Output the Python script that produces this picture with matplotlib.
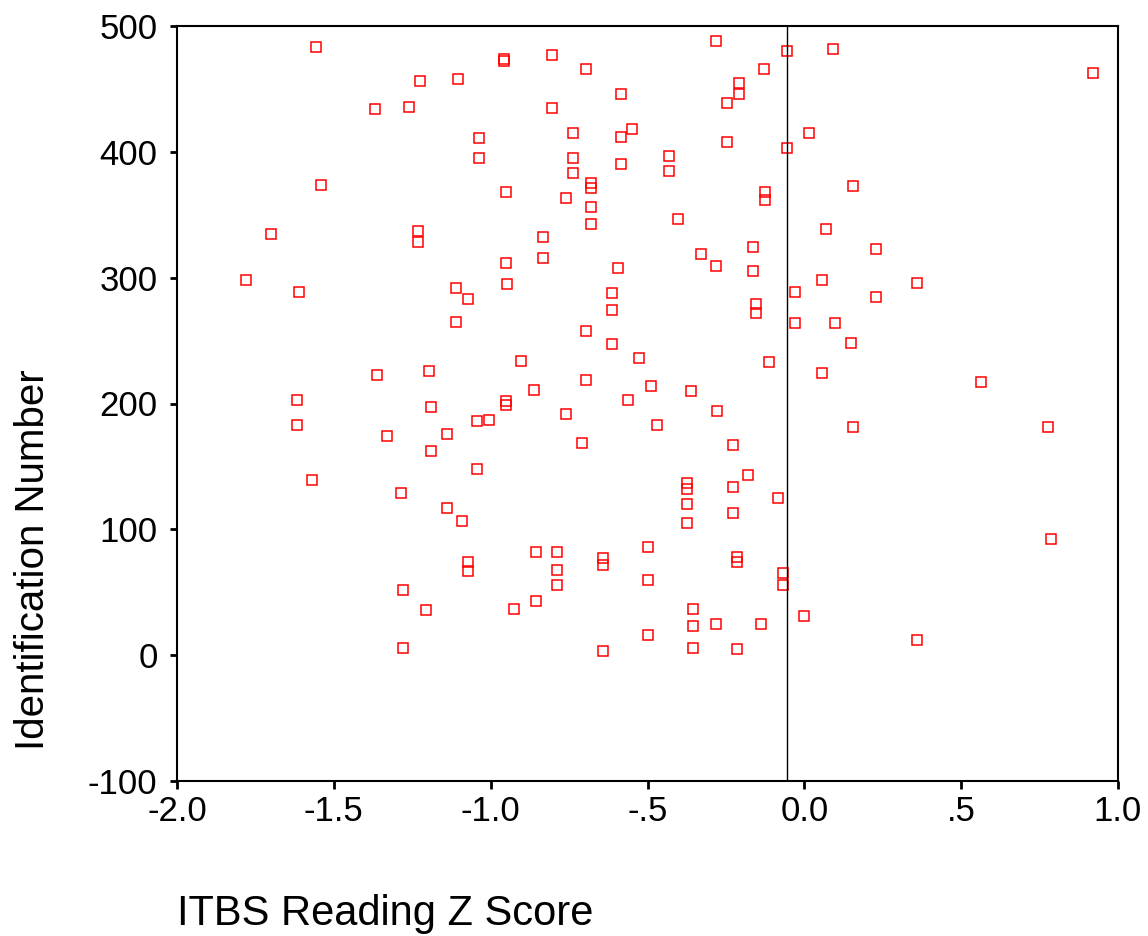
import matplotlib
matplotlib.use('Agg')
import matplotlib.pyplot as plt

plt.rcParams['font.family'] = ['Liberation Sans', 'DejaVu Sans']
plt.rcParams['axes.unicode_minus'] = False

# ITBS reading z score vs identification number
z_score = [
    -1.557, -1.225, -1.105, -1.370, -1.259, -1.037, -1.037, -1.542, -1.701, -1.231,
    -1.231, -1.780, -1.610, -1.112, -1.071, -1.112, -1.361, -1.197,
    -0.283, -0.056, -0.959, -0.959, -0.805, -0.697, -0.130, -0.209, -0.209, -0.245,
    -0.584, -0.805, -0.736, -0.584, -0.549, -0.245, -0.056, -0.736, -0.584, -0.431,
    -0.431, -0.736, -0.680, -0.680, -0.952, -0.760, -0.125, -0.125, -0.680, -0.680,
    -0.403, -0.833, -0.833, -0.952, -0.947, -0.329, -0.283, -0.164, -0.164, -0.595,
    -0.029, -0.029, -0.612, -0.612, -0.153, -0.153, -0.697, -0.612, -0.902, -0.527,
    -0.114, -0.697, -0.862, -0.488, -0.362,
    0.091, 0.919, 0.015, 0.154, 0.069, 0.230, 0.057, 0.358, 0.230, 0.098,
    0.148, 0.057, 0.562,
    -1.618, -1.618, -1.570, -1.332, -1.190, -1.190, -1.140, -1.044, -1.005, -1.044,
    -1.287, -1.140, -1.092, -1.071, -1.071, -1.279, -1.207, -1.279,
    -0.952, -0.952, -0.760, -0.561, -0.278, -0.470, -0.709, -0.227, -0.374, -0.374,
    -0.374, -0.374, -0.181, -0.227, -0.227, -0.085, -0.857, -0.789, -0.789, -0.789,
    -0.641, -0.641, -0.499, -0.499, -0.216, -0.216, -0.069, -0.069, -0.925, -0.857,
    -0.354, -0.354, -0.283, -0.138, -0.499, -0.641, -0.354, -0.216, 0.000,
    0.154, 0.778, 0.786, 0.358,
]
id_number = [
    483, 456, 458, 434, 436, 411, 395, 374, 335, 337,
    328, 298, 289, 292, 283, 265, 223, 226,
    488, 480, 474, 472, 477, 466, 466, 455, 446, 439,
    446, 435, 415, 412, 418, 408, 403, 395, 390, 397,
    385, 383, 375, 371, 368, 363, 368, 362, 356, 343,
    347, 332, 316, 312, 295, 319, 309, 324, 305, 308,
    289, 264, 288, 274, 279, 272, 258, 247, 234, 236,
    233, 219, 211, 214, 210,
    482, 463, 415, 373, 339, 323, 298, 296, 285, 264,
    248, 224, 217,
    203, 183, 139, 174, 197, 162, 176, 186, 187, 148,
    129, 117, 107, 74, 67, 52, 36, 6,
    202, 199, 192, 203, 194, 183, 169, 167, 137, 132,
    120, 105, 143, 134, 113, 125, 82, 82, 68, 56,
    77, 72, 86, 60, 78, 74, 65, 56, 37, 43,
    37, 23, 25, 25, 16, 3, 6, 5, 31,
    181, 181, 92, 12,
]
ref_line = -0.055

x_ticks = [-2.0, -1.5, -1.0, -0.5, 0.0, 0.5, 1.0]
x_tick_labels = ['-2.0', '-1.5', '-1.0', '-.5', '0.0', '.5', '1.0']
y_ticks = [-100, 0, 100, 200, 300, 400, 500]

fig = plt.figure(figsize=(11.48, 9.36), dpi=100)
ax = fig.add_axes([177/1148, 1-781/936, 941/1148, 755/936])

ax.plot(z_score, id_number, linestyle='none', marker='s', markersize=6.5,
        markerfacecolor='none', markeredgecolor='#ff0000', markeredgewidth=1.1)
ax.axvline(ref_line, color='black', linewidth=1.0)

ax.set_xlim(-2.0, 1.0)
ax.set_ylim(-100, 500)
ax.set_xticks(x_ticks)
ax.set_xticklabels(x_tick_labels)
ax.set_yticks(y_ticks)
ax.tick_params(axis='x', labelsize=25, length=6, width=2, pad=4, direction='out')
ax.tick_params(axis='y', labelsize=25, length=5, width=2, pad=9, direction='out')
for s in ax.spines.values():
    s.set_linewidth(1.5)

fig.text(177/1148, 1-925/936, 'ITBS Reading Z Score', fontsize=30,
         ha='left', va='baseline')
fig.text(14/1148, 1-750/936, 'Identification Number', fontsize=29,
         rotation=90, ha='left', va='bottom')

fig.savefig('out.png', dpi=100)
